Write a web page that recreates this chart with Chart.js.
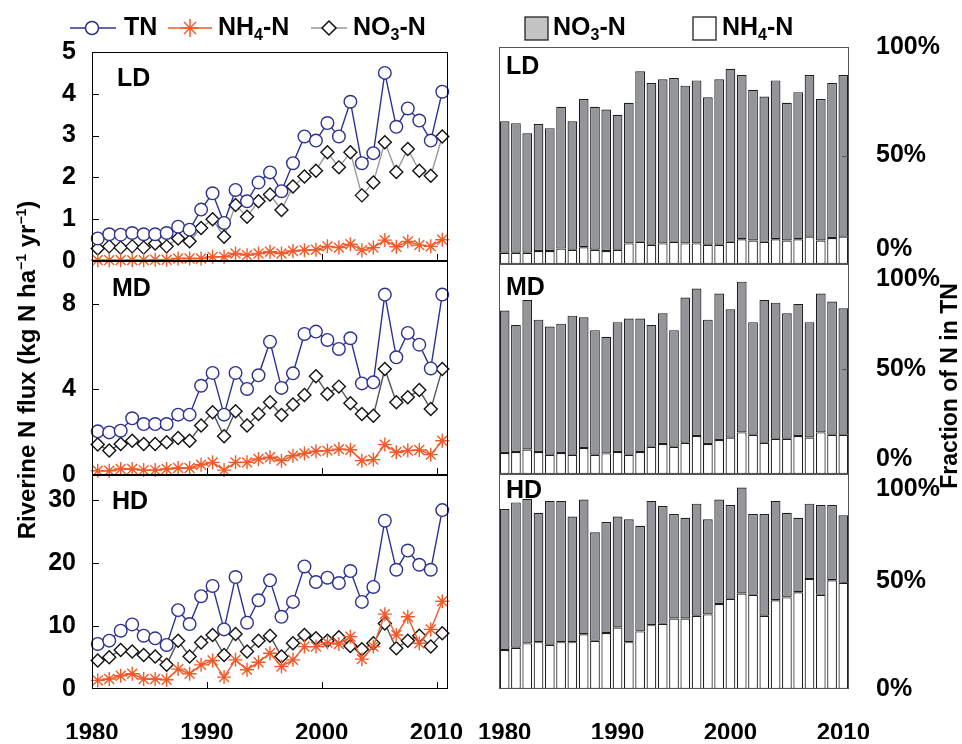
<!DOCTYPE html>
<html>
<head>
<meta charset="utf-8">
<script src="https://cdn.jsdelivr.net/npm/chart.js@4.4.1/dist/chart.umd.min.js"></script>
<style>
  body { margin: 0; background: #fff; }
  #wrap { position: relative; width: 962px; height: 744px; overflow: hidden;
          font-family: "Liberation Sans", Arial, sans-serif; font-weight: bold; color: #000; }
  #wrap canvas { position: absolute; left: 0; top: 0; }
  .lg { position: absolute; top: 14px; font-size: 25px; line-height: 1; white-space: nowrap; }
  .lg sub { font-size: 16px; vertical-align: -5px; line-height: 0; }
  .ico { position: absolute; }
  .ytitle { position: absolute; width: 500px; text-align: center; line-height: 28px; white-space: nowrap;
            transform: rotate(-90deg); transform-origin: 50% 50%; }
  .ytitle sup { font-size: 14px; vertical-align: 9px; line-height: 0; }
</style>
</head>
<body>
<div id="wrap">
  <canvas id="ldLine" width="962" height="744"></canvas>
  <canvas id="mdLine" width="962" height="744"></canvas>
  <canvas id="hdLine" width="962" height="744"></canvas>
  <canvas id="ldBar" width="962" height="744"></canvas>
  <canvas id="mdBar" width="962" height="744"></canvas>
  <canvas id="hdBar" width="962" height="744"></canvas>

  <!-- legend, left column -->
  <svg class="ico" style="left:68px;top:16px" width="50" height="24">
    <line x1="2" y1="12" x2="48" y2="12" stroke="#2E3192" stroke-width="1.5"/>
    <circle cx="24" cy="12" r="6.5" fill="#fff" stroke="#2E3192" stroke-width="1.5"/>
  </svg>
  <div class="lg" style="left:124px">TN</div>
  <svg class="ico" style="left:166px;top:16px" width="50" height="24">
    <line x1="2" y1="12" x2="46" y2="12" stroke="#F05A28" stroke-width="1.5"/>
    <g stroke="#F05A28" stroke-width="1.5">
      <line x1="15" y1="12" x2="33" y2="12"/><line x1="24" y1="3" x2="24" y2="21"/>
      <line x1="18" y1="6" x2="30" y2="18"/><line x1="30" y1="6" x2="18" y2="18"/>
    </g>
  </svg>
  <div class="lg" style="left:218px">NH<sub>4</sub>-N</div>
  <svg class="ico" style="left:309px;top:16px" width="40" height="24">
    <line x1="2" y1="12" x2="38" y2="12" stroke="#999" stroke-width="1.5"/>
    <polygon points="20,5 27,12 20,19 13,12" fill="#fff" stroke="#111" stroke-width="1.5"/>
  </svg>
  <div class="lg" style="left:353px">NO<sub>3</sub>-N</div>

  <!-- legend, right column -->
  <svg class="ico" style="left:524px;top:16px" width="26" height="26">
    <rect x="1" y="1" width="23" height="23" fill="#c4c4c4" stroke="#222" stroke-width="1.3"/>
  </svg>
  <div class="lg" style="left:553px">NO<sub>3</sub>-N</div>
  <svg class="ico" style="left:692px;top:16px" width="26" height="26">
    <rect x="1" y="1" width="23" height="23" fill="#fff" stroke="#222" stroke-width="1.3"/>
  </svg>
  <div class="lg" style="left:722px">NH<sub>4</sub>-N</div>

  <div class="ytitle" style="left:-223px;top:356px;font-size:24px">Riverine N flux (kg N ha<sup>−1</sup> yr<sup>−1</sup>)</div>
  <div class="ytitle" style="left:699px;top:372px;font-size:23px">Fraction of N in TN</div>
</div>

<script>
// ---- data ----
const years = [1980, 1981, 1982, 1983, 1984, 1985, 1986, 1987, 1988, 1989,
               1990, 1991, 1992, 1993, 1994, 1995, 1996, 1997, 1998, 1999,
               2000, 2001, 2002, 2003, 2004, 2005, 2006, 2007, 2008, 2009, 2010];

// riverine N flux, kg N ha-1 yr-1
const ldTN  = [0.54, 0.64, 0.63, 0.67, 0.64, 0.64, 0.67, 0.82, 0.75, 1.23, 1.62, 0.91, 1.70, 1.43, 1.88, 2.12,
               1.67, 2.34, 2.98, 2.88, 3.30, 2.98, 3.81, 2.34, 2.58, 4.50, 3.21, 3.65, 3.36, 2.88, 4.05];
const ldNH4 = [0.02, 0.02, 0.02, 0.02, 0.02, 0.03, 0.03, 0.06, 0.06, 0.06, 0.10, 0.10, 0.18, 0.14, 0.18, 0.22,
               0.18, 0.24, 0.26, 0.27, 0.35, 0.32, 0.40, 0.26, 0.32, 0.50, 0.34, 0.47, 0.38, 0.35, 0.51];
const ldNO3 = [0.30, 0.35, 0.32, 0.35, 0.32, 0.42, 0.35, 0.54, 0.47, 0.79, 1.00, 0.58, 1.34, 1.06, 1.43, 1.59,
               1.22, 1.78, 2.02, 2.16, 2.60, 2.24, 2.60, 1.57, 1.88, 2.84, 2.13, 2.68, 2.16, 2.04, 2.98];

const mdTN  = [2.04, 1.99, 2.07, 2.65, 2.38, 2.38, 2.38, 2.82, 2.82, 4.17, 4.77, 2.82, 4.77, 4.02, 4.66, 6.23,
               4.07, 4.75, 6.59, 6.70, 6.31, 5.89, 6.39, 4.28, 4.33, 8.43, 5.50, 6.64, 6.09, 4.98, 8.43];
const mdNH4 = [0.20, 0.20, 0.28, 0.28, 0.23, 0.23, 0.28, 0.33, 0.33, 0.48, 0.59, 0.23, 0.59, 0.59, 0.75, 0.83,
               0.67, 0.90, 1.01, 1.11, 1.14, 1.21, 1.18, 0.67, 0.72, 1.42, 1.06, 1.14, 1.17, 0.95, 1.60];
const mdNO3 = [1.42, 1.14, 1.45, 1.60, 1.45, 1.45, 1.53, 1.73, 1.60, 2.31, 2.93, 1.81, 2.98, 2.31, 2.85, 3.40,
               2.80, 3.29, 3.74, 4.61, 3.79, 4.13, 3.35, 2.85, 2.77, 4.95, 3.40, 3.63, 3.97, 3.08, 4.95];

const hdTN  = [7.16, 7.68, 9.26, 10.26, 8.47, 8.05, 7.00, 12.53, 10.32, 14.74, 16.37, 9.47, 17.79, 10.53, 14.10, 17.26,
               11.47, 13.84, 19.47, 17.00, 17.68, 16.84, 18.74, 13.84, 16.21, 26.74, 18.95, 22.00, 19.74, 18.95, 28.42];
const hdNH4 = [1.37, 1.58, 2.10, 2.42, 1.58, 1.58, 1.47, 3.16, 2.42, 3.84, 4.53, 1.89, 4.63, 3.05, 4.26, 5.68,
               3.58, 4.63, 6.74, 6.74, 7.37, 7.16, 8.32, 4.74, 6.74, 11.89, 8.58, 11.47, 7.26, 9.47, 13.95];
const hdNO3 = [4.53, 5.05, 6.21, 5.95, 5.42, 5.16, 3.84, 7.68, 5.16, 7.37, 8.58, 5.42, 8.74, 5.95, 7.68, 8.47,
               5.16, 7.26, 8.58, 8.05, 7.68, 8.21, 6.84, 6.32, 7.26, 10.42, 6.47, 7.68, 8.47, 6.74, 8.84];

// fraction of N in TN, %
const ldPctNH4 = [5.2, 5.2, 5.2, 6.0, 6.0, 7.1, 6.6, 7.7, 6.6, 6.0, 6.6, 9.5, 10.2, 8.9, 9.5, 10.2,
                  9.5, 9.5, 8.9, 8.9, 10.2, 11.4, 10.8, 10.2, 11.4, 10.8, 11.4, 12.6, 10.8, 12.0, 12.6];
const ldPctNO3 = [60.6, 59.7, 55.0, 58.5, 56.6, 65.4, 59.2, 68.3, 65.9, 65.2, 62.2, 64.8, 78.6, 74.5, 75.6, 75.5,
                  72.7, 75.1, 67.9, 76.2, 79.8, 75.7, 69.5, 67.0, 73.2, 63.5, 67.8, 74.5, 65.2, 71.4, 74.5];
const mdPctNH4 = [10.0, 10.5, 11.7, 10.5, 9.2, 10.0, 9.2, 12.4, 9.2, 9.8, 10.5, 9.2, 10.5, 13.0, 14.3, 13.0,
                  14.9, 18.1, 14.3, 16.2, 17.3, 19.8, 18.7, 14.9, 16.8, 16.8, 18.1, 17.4, 19.8, 18.7, 18.7];
const mdPctNO3 = [67.8, 60.5, 71.2, 63.0, 61.0, 61.6, 66.2, 62.2, 59.3, 55.5, 61.8, 64.8, 63.5, 58.0, 62.2, 55.5,
                  69.1, 70.2, 59.2, 69.7, 61.1, 71.8, 53.6, 68.0, 64.8, 59.7, 62.9, 54.9, 66.1, 63.4, 60.2];
const hdPctNH4 = [18.1, 19.2, 21.2, 21.8, 20.6, 21.8, 21.8, 25.5, 22.4, 26.0, 28.6, 21.8, 26.8, 29.7, 30.3, 32.8,
                  32.8, 34.1, 34.7, 39.5, 42.0, 44.4, 43.8, 34.1, 41.3, 42.6, 45.0, 51.2, 43.8, 50.6, 49.4];
const hdPctNO3 = [65.6, 67.6, 67.3, 60.2, 66.9, 65.7, 58.4, 62.6, 50.5, 51.7, 51.6, 57.1, 49.1, 57.8, 54.8, 48.6,
                  46.8, 52.1, 44.2, 48.6, 43.6, 49.3, 37.6, 47.3, 46.2, 39.4, 34.6, 35.0, 41.8, 35.0, 31.4];

const pctTicks = [0, 50, 100];

// ---- look ----
const FONT = '"Liberation Sans", Arial, sans-serif';
const BLUE = '#2E3192', RED = '#F05A28', BAR_GREY = '#939598';
const W = 962, H = 744, YW = 60, YW_R = 110, XH = 50;
const LEFT = { l: 92, r: 448 }, RIGHT = { l: 499, r: 849 };

Chart.defaults.font.family = FONT;
Chart.defaults.font.weight = 'bold';
Chart.defaults.color = '#000';

// frame, inward ticks and the panel name
const panelDeco = {
  id: 'panelDeco',
  afterDatasetsDraw(chart, args, o) {
    const { ctx, chartArea: a } = chart;
    const xs = chart.scales.x, ys = chart.scales.y;
    ctx.save();
    ctx.strokeStyle = o.frame;
    ctx.lineWidth = 1;
    ctx.strokeRect(a.left + 0.5, a.top + 0.5, a.right - a.left - 1, a.bottom - a.top - 1);
    ctx.beginPath();
    if (o.xTicks) {
      xs.ticks.forEach(t => {
        const px = Math.round(xs.getPixelForValue(t.value)) + 0.5;
        if (px > a.left + 2 && px < a.right - 2) { ctx.moveTo(px, a.bottom); ctx.lineTo(px, a.bottom - 7); }
      });
    }
    ys.ticks.forEach(t => {
      const py = Math.round(ys.getPixelForValue(t.value)) + 0.5;
      if (py > a.top + 2 && py < a.bottom - 2) {
        if (o.side === 'left') { ctx.moveTo(a.left, py); ctx.lineTo(a.left + 7, py); }
        else { ctx.moveTo(a.right, py); ctx.lineTo(a.right - 7, py); }
      }
    });
    ctx.stroke();
    ctx.fillStyle = '#000';
    ctx.font = 'bold 25px ' + FONT;
    ctx.textBaseline = 'alphabetic';
    ctx.fillText(o.label, a.left + o.dx, a.top + o.dy + 9);
    ctx.restore();
  }
};

function tickFont(size) { return { size: size, weight: 'bold', family: FONT }; }

function lineChart(id, row, yMax, yStep, tn, nh4, no3, greyLine, deco, showX) {
  const pts = arr => arr.map((v, i) => ({ x: years[i] + 0.5, y: v }));
  return new Chart(document.getElementById(id), {
    type: 'line',
    data: {
      datasets: [
        { label: 'TN', data: pts(tn), borderColor: BLUE, borderWidth: 1.4, pointStyle: 'circle',
          pointRadius: 6.3, pointBackgroundColor: '#fff', pointBorderColor: BLUE, pointBorderWidth: 1.4, clip: false },
        { label: 'NH4-N', data: pts(nh4), borderColor: RED, borderWidth: 1.4, pointStyle: 'star',
          pointRadius: 7, pointBorderColor: RED, pointBorderWidth: 1.4, clip: false },
        { label: 'NO3-N', data: pts(no3), borderColor: greyLine, borderWidth: 1.4, pointStyle: 'rectRot',
          pointRadius: 6.5, pointBackgroundColor: '#fff', pointBorderColor: '#111', pointBorderWidth: 1.4, clip: false }
      ]
    },
    options: {
      responsive: false,
      animation: false,
      devicePixelRatio: 1,
      layout: { padding: { left: LEFT.l - YW, right: W - LEFT.r, top: row.t, bottom: H - row.b - XH } },
      plugins: {
        legend: { display: false },
        tooltip: { enabled: false },
        panelDeco: Object.assign({ frame: '#000', side: 'left', xTicks: true }, deco)
      },
      scales: {
        x: {
          type: 'linear', min: 1980, max: 2011,
          grid: { display: false }, border: { display: false },
          afterFit: s => { s.height = XH; },
          ticks: { display: showX, stepSize: 10, includeBounds: false, autoSkip: false, maxRotation: 0,
                   padding: 22, font: tickFont(24), callback: v => String(v) }
        },
        y: {
          min: 0, max: yMax,
          grid: { display: false }, border: { display: false },
          afterFit: s => { s.width = YW; },
          ticks: { stepSize: yStep, includeBounds: false, padding: 8, font: tickFont(25), callback: v => String(v) }
        }
      }
    },
    plugins: [panelDeco]
  });
}

function barChart(id, row, nh4, no3, deco, showX, zeroLbl, topLbl) {
  return new Chart(document.getElementById(id), {
    type: 'bar',
    data: {
      labels: years,
      datasets: [
        { label: 'NH4-N', data: nh4, backgroundColor: '#fff' },
        { label: 'NO3-N', data: no3, backgroundColor: BAR_GREY }
      ]
    },
    options: {
      responsive: false,
      animation: false,
      devicePixelRatio: 1,
      layout: { padding: { left: RIGHT.l, right: W - RIGHT.r - YW_R, top: row.t, bottom: H - row.b - XH } },
      datasets: { bar: { borderColor: '#1e1e1e', borderWidth: 1.2, borderSkipped: false,
                         barPercentage: 0.86, categoryPercentage: 1 } },
      plugins: {
        legend: { display: false },
        tooltip: { enabled: false },
        panelDeco: Object.assign({ frame: '#555', side: 'right', xTicks: false }, deco)
      },
      scales: {
        x: {
          stacked: true,
          grid: { display: false }, border: { display: false },
          afterFit: s => { s.height = XH; },
          ticks: { display: showX, autoSkip: false, maxRotation: 0, padding: 22, font: tickFont(24),
                   callback: (v, i) => (years[i] % 10 === 0 ? String(years[i]) : '') }
        },
        y: {
          stacked: true, position: 'right', min: 0, max: 100,
          grid: { display: false }, border: { display: false },
          afterFit: s => { s.width = YW_R; },
          afterBuildTicks: s => { s.ticks = pctTicks.map(v => ({ value: v })); },
          ticks: { padding: 19, font: Object.assign(tickFont(25), { lineHeight: 1.2 }),
                   callback: v => (v === 0 ? zeroLbl : v === 100 ? topLbl : v + '%') }
        }
      }
    },
    plugins: [panelDeco]
  });
}

lineChart('ldLine', { t: 52, b: 261 }, 5, 1, ldTN, ldNH4, ldNO3, '#999', { label: 'LD', dx: 25, dy: 25 }, false);
lineChart('mdLine', { t: 261, b: 475 }, 10, 4, mdTN, mdNH4, mdNO3, '#555', { label: 'MD', dx: 20, dy: 26 }, false);
lineChart('hdLine', { t: 475, b: 689 }, 34, 10, hdTN, hdNH4, hdNO3, '#555', { label: 'HD', dx: 20, dy: 25 }, true);

barChart('ldBar', { t: 47, b: 264 }, ldPctNH4, ldPctNO3, { label: 'LD', dx: 7, dy: 18 }, false, ['0%', ''], '100%');
barChart('mdBar', { t: 264, b: 474 }, mdPctNH4, mdPctNO3, { label: 'MD', dx: 7, dy: 22 }, false, ['0%', ''], ['', '100%']);
barChart('hdBar', { t: 474, b: 689 }, hdPctNH4, hdPctNO3, { label: 'HD', dx: 7, dy: 15 }, true, '0%', ['', '100%']);
</script>
</body>
</html>
